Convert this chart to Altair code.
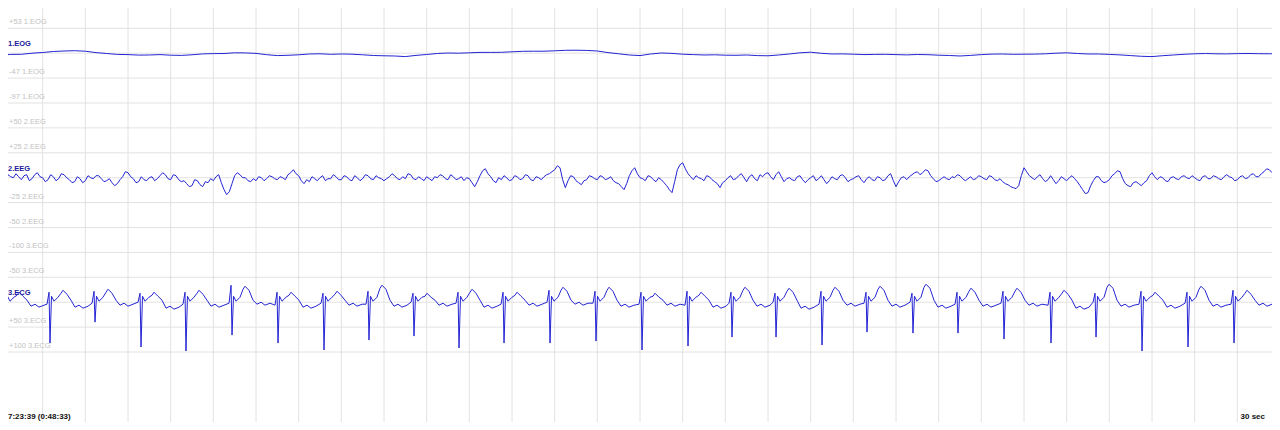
import altair as alt
import pandas as pd

# ---------------- data ----------------
# 1.EOG in microvolts, one value every 0.25 s (0 .. 30 s)
eog_step = 0.25
eog_uv = [-1.2, 0.6, 0.8, 3.0, 4.4, 6.4, 7.4, 8.0, 7.0, 4.2,
          2.4, 0.6, 0.2, -0.8, -0.6, 0.2, -1.0, -1.4, -0.2, 1.6,
          2.2, 2.4, 3.8, 3.6, 2.6, 0.0, -1.8, -1.2, -0.2, 1.4,
          1.8, 0.8, 1.4, 1.0, -0.2, -1.6, -2.2, -2.6, -3.8, -1.4,
          0.4, 2.4, 3.4, 3.0, 3.8, 4.6, 4.6, 4.8, 5.8, 6.8,
          7.0, 7.0, 7.8, 8.8, 9.0, 8.6, 7.4, 4.2, 1.8, -0.6,
          -1.8, 1.4, 3.4, 2.6, 1.0, 0.2, -0.6, -0.2, -1.0, -1.2,
          -0.6, -1.8, -2.2, -0.6, 1.4, 3.8, 5.0, 2.8, 1.4, 1.6,
          1.0, 0.2, 0.6, 0.8, 0.2, -0.4, 0.4, 0.0, -1.0, -1.6,
          -2.6, -1.4, 0.2, 1.2, 1.4, 0.8, 1.0, 1.2, 1.8, 3.0,
          3.8, 2.4, 1.4, 1.4, 0.6, -0.4, -1.8, -3.2, -3.8, -2.0,
          -0.6, 0.8, 1.8, 2.4, 1.8, 1.6, 2.2, 2.4, 2.0, 1.8,
          2.2]

# 2.EEG in microvolts, one value every 0.0625 s (0 .. 30 s), 16 per second
eeg_step = 0.0625
eeg_uv = [2, -2, -3, 3, 1, 0, 4, 1, -2, 2, 3, -3, -1, 3, 5, 1,
          0, -4, -2, 3, 1, -3, -1, 4, 3, 0, -2, -5, -4, 1, -1, -5,
          -3, 2, 0, -1, 2, 2, -1, -4, -3, -1, -5, -8, -6, -2, 1, 6,
          5, 1, -1, -5, -4, 1, -2, -3, 0, 1, -3, -1, 2, 5, 3, -1,
          -2, 3, 2, -2, -4, -3, -6, -9, -8, -2, -3, -7, -9, -4, -5, -1,
          -3, 1, 3, -5, -12, -17, -14, -6, 2, 5, 3, 0, 0, -3, -4, -1,
          -3, 1, 0, -3, -1, 2, 1, -1, -2, 1, 0, -2, 3, 5, 8, 4,
          2, -3, -6, -2, -4, 1, -1, -3, 0, 2, -3, -1, -1, 3, 1, -2,
          -2, 2, 1, -2, -3, 2, 0, -3, -1, 3, 2, -1, -2, 2, 0, -1,
          -3, -1, 1, 4, 2, -1, -2, 1, -1, 4, 3, -1, -2, 1, -1, -3,
          1, -1, -3, 1, 0, 3, 2, -1, -2, 3, 1, -2, -1, 1, -3, 0,
          -1, -5, -9, -4, 2, 7, 9, 4, 1, -3, -5, 0, -2, 2, 0, -3,
          -2, 2, 1, -2, -1, 3, 2, -2, -3, 1, 0, -2, 1, 3, 4, 6,
          8, 12, 10, -2, -10, -3, 2, 1, -3, -5, -7, -3, -2, 2, 1, -1,
          -2, 2, 1, -2, -1, 1, -3, -5, -6, -9, -12, -6, 2, 7, 10, 4,
          0, -1, -3, 2, 1, -2, -4, 0, -2, -5, -8, -12, -15, -4, 8, 13,
          15, 9, 4, 1, -2, 2, 0, -1, -3, 2, 1, -2, -4, -6, -10, -5,
          -3, 0, 2, -2, -1, 2, 4, 0, -4, 1, 3, -1, -3, 3, 1, 4,
          5, 1, -2, 3, 6, 1, -4, -1, 0, -2, -3, 1, 2, -2, -5, -2,
          0, 2, -3, -1, 2, -2, -6, -3, 1, -1, -2, 2, 3, 0, -4, -2,
          -1, 1, 2, -2, -5, -1, 1, -2, -3, 1, 0, -3, -2, 2, 4, -3,
          -9, -4, 0, 1, -2, 1, 3, 5, 6, 3, 5, 8, 7, 2, -1, -4,
          -3, -1, 1, -1, -2, 1, 0, 3, 2, -1, -3, -1, 1, -2, -1, 2,
          1, -1, -2, 2, 1, -2, -3, -1, -4, -6, -7, -9, -10, -11, -8, 2,
          10, 6, 2, 0, -2, 1, 3, -1, -4, -2, 2, -2, -6, -3, 1, -1,
          -3, 0, 2, -1, -4, -8, -12, -16, -15, -8, -3, 1, 1, -3, -5, -4,
          -2, 2, 4, 7, 6, -1, -6, -8, -9, -5, -4, -6, -8, -5, -3, 2,
          5, 1, -2, 1, 0, -3, -4, 0, 1, -1, -2, 1, 2, 0, -1, 2,
          0, -2, -3, 1, 2, -1, -1, 2, 1, -1, -2, 1, 3, 1, 0, -3,
          -2, 1, 2, -1, 0, 3, 4, 1, 1, 4, 6, 9, 8, 5, 4, 2,
          1]

# 3.ECG beats (display is inverted: positive values go down)
ecg_r_time = [0.141, 1.172, 2.227, 3.305, 4.359, 5.438, 6.516, 7.594, 8.648, 9.703,
              10.758, 11.813, 12.891, 13.969, 15.047, 16.125, 17.156, 18.188, 19.266, 20.320,
              21.398, 22.453, 23.531, 24.633, 25.688, 26.766, 27.844, 28.922, 29.977]
ecg_r_depth = [72, 82, 40, 90, 98, 66, 82, 96, 76, 68, 92, 82, 82, 78, 96,
               88, 70, 70, 86, 60, 62, 62, 74, 82, 70, 98, 90, 82, 56]
ecg_r_up = [-38, -20, -22, -18, -20, -34, -20, -18, -22, -18, -20, -20, -24, -22, -20,
            -22, -20, -18, -22, -20, -18, -20, -22, -20, -18, -22, -20, -24, -20]
ecg_t_wave = [-20, -24, -26, -20, -24, -32, -20, -22, -34, -18, -26, -20, -30, -30, -18,
              -20, -30, -28, -30, -32, -36, -28, -28, -24, -36, -20, -32, -24, -24]
ecg_pre = [2, 4, 2, 0, 4, 2, 6, 2, 4, 0, 2, 4, 0, 2, 4,
           6, 2, 0, 4, 2, 0, 4, 2, 6, 0, 4, 2, 4, 2]
ecg_trough = [8, 10, 6, 12, 8, 4, 10, 6, 8, 6, 10, 6, 4, 8, 6,
              10, 8, 12, 6, 8, 10, 8, 6, 12, 8, 10, 8, 6, 4]
# wiggles common to every beat, microvolts and seconds after the R spike
ecg_beat_dt = [-0.07, -0.023, 0.0, 0.035, 0.094, 0.1875, 0.258, 0.305, 0.398,
               0.492, 0.586, 0.680, 0.773, 0.891]
ecg_wiggle = [-12, -2, -10, 6, 8, -4, 0, -4, 2, -2]

# grid row labels (one per horizontal grid line)
row_labels = ["", "+53 1.EOG", "", "-47 1.EOG", "-97 1.EOG",
              "+50 2.EEG", "+25 2.EEG", "", "-25 2.EEG", "-50 2.EEG",
              "-100 3.ECG", "-50 3.ECG", "", "+50 3.ECG", "+100 3.ECG"]
channel_names = ["1.EOG", "2.EEG", "3.ECG"]
channel_rows = [2, 7, 12]
seconds = list(range(0, 31))
start_label = "7:23:39 (0:48:33)"
end_label = "30 sec"

# ---------------- tables ----------------
eog_df = pd.DataFrame({"t": [i * eog_step for i in range(len(eog_uv))], "v": eog_uv})
eeg_df = pd.DataFrame({"t": [i * eeg_step for i in range(len(eeg_uv))], "v": eeg_uv})

ecg_rows = [(0.0, 4)]
for i, r in enumerate(ecg_r_time):
    w = ecg_wiggle
    vals = [ecg_pre[i], ecg_r_up[i], ecg_r_depth[i], w[0], w[1], w[2],
            ecg_t_wave[i] + w[3], ecg_t_wave[i], ecg_t_wave[i] + w[4], w[5],
            ecg_trough[i] + w[6], ecg_trough[i] + w[7], ecg_trough[i] + w[8],
            ecg_trough[i] + w[9]]
    for dt, v in zip(ecg_beat_dt, vals):
        ecg_rows.append((r + dt, v))
ecg_df = pd.DataFrame(ecg_rows, columns=["t", "v"])

grid_df = pd.DataFrame({"row": list(range(len(row_labels))), "label": row_labels})
chan_df = pd.DataFrame({"row": channel_rows, "label": channel_names})
sec_df = pd.DataFrame({"s": seconds})

W, H = 1264, 414
x_scale = alt.Scale(domain=[0.1875, 29.8125], nice=False, zero=False)
y_scale = alt.Scale(domain=[0.1847, 16.811], reverse=True, nice=False, zero=False)

TRACE = "#2424d4"
GRID = "#e2e2e2"

vgrid = alt.Chart(sec_df).mark_rule(color=GRID, strokeWidth=1, clip=True).encode(
    x=alt.X("s:Q", scale=x_scale, axis=None),
    y=alt.value(0), y2=alt.value(H))

hgrid = alt.Chart(grid_df).mark_rule(color=GRID, strokeWidth=1, clip=True).encode(
    y=alt.Y("row:Q", scale=y_scale, axis=None),
    x=alt.value(0), x2=alt.value(W))

glabels = alt.Chart(grid_df).transform_filter("datum.label != ''").mark_text(
    align="left", baseline="bottom", dx=0, dy=-2, font="Liberation Sans",
    fontSize=7.5, color="#c2c2c2", clip=True).encode(
    x=alt.value(1), y=alt.Y("row:Q", scale=y_scale, axis=None), text="label:N")

def trace(df, expr):
    return alt.Chart(df).transform_calculate(rowpos=expr).mark_line(
        color=TRACE, strokeWidth=1, clip=True, interpolate="linear").encode(
        x=alt.X("t:Q", scale=x_scale, axis=None),
        y=alt.Y("rowpos:Q", scale=y_scale, axis=None),
        order="t:Q")

eog = trace(eog_df, "2 - (datum.v - 3) / 50")
eeg = trace(eeg_df, "7 - datum.v / 25")
ecg = trace(ecg_df, "12 + datum.v / 50")

clabels = alt.Chart(chan_df).mark_text(
    align="left", baseline="bottom", dy=-5, font="Liberation Sans",
    fontSize=7.5, fontWeight="bold", color="#1a1a9a").encode(
    x=alt.value(0), y=alt.Y("row:Q", scale=y_scale, axis=None), text="label:N")

bl = alt.Chart(pd.DataFrame({"label": [start_label]})).mark_text(
    align="left", baseline="bottom", font="Liberation Sans", fontSize=8,
    fontWeight="bold", color="#111111").encode(
    x=alt.value(0), y=alt.value(H - 1), text="label:N")

br = alt.Chart(pd.DataFrame({"label": [end_label]})).mark_text(
    align="right", baseline="bottom", font="Liberation Sans", fontSize=8,
    fontWeight="bold", color="#111111").encode(
    x=alt.value(1257), y=alt.value(H - 1), text="label:N")

chart = alt.layer(vgrid, hgrid, glabels, eog, eeg, ecg, clabels, bl, br).properties(
    width=W, height=H, padding=0, background="white",
    autosize=alt.AutoSizeParams(type="none")
).configure_view(stroke=None)

chart.save("out.html", embed_options={"renderer": "svg", "actions": False})
